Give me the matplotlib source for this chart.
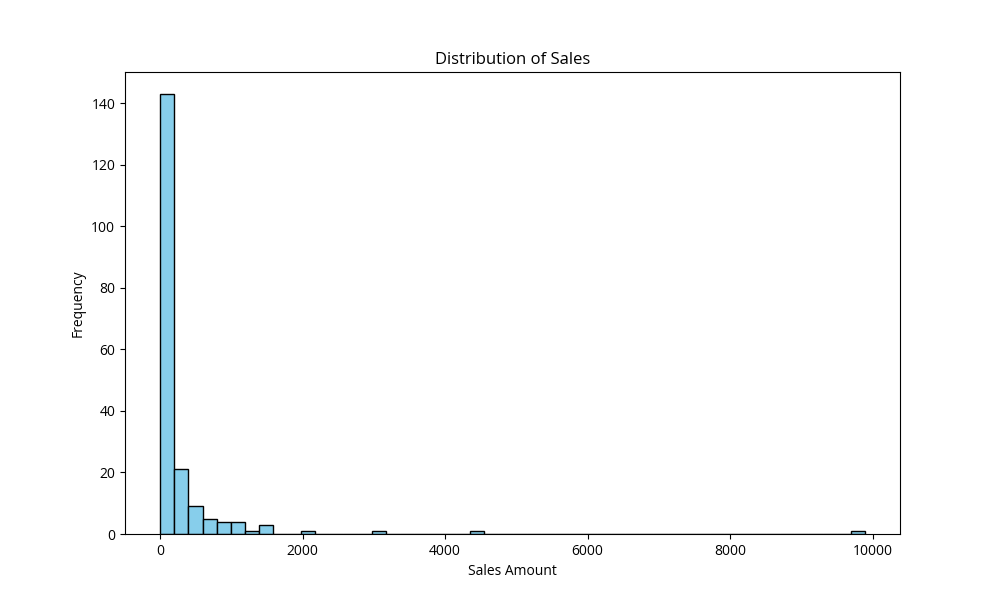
import numpy as np
import matplotlib
matplotlib.use('Agg')
import matplotlib.pyplot as plt

plt.rcParams['font.family'] = ['Open Sans', 'DejaVu Sans']

# histogram: 50 bins between min and max sales
sales_min = 0
sales_max = 9890
n_bins = 50
bin_index = [0, 1, 2, 3, 4, 5, 6, 7, 10, 15, 22, 49]
bin_count = [143, 21, 9, 5, 4, 4, 1, 3, 1, 1, 1, 1]

edges = np.linspace(sales_min, sales_max, n_bins + 1)
centers = (edges[:-1] + edges[1:]) / 2
x = [centers[i] for i in bin_index]

fig, ax = plt.subplots(figsize=(10, 6), dpi=100)
ax.hist(x, bins=edges, weights=bin_count, color='skyblue', edgecolor='black')
ax.set_title('Distribution of Sales')
ax.set_xlabel('Sales Amount')
ax.set_ylabel('Frequency')

fig.savefig('out.png', dpi=100)
